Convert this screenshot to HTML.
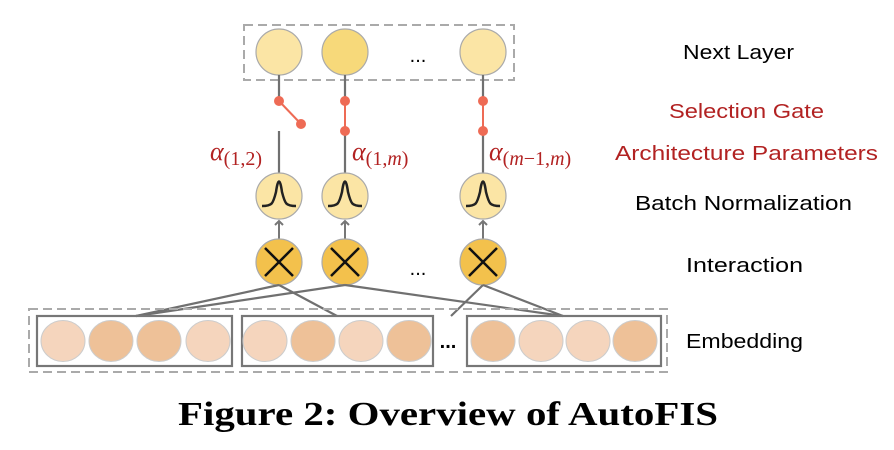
<!DOCTYPE html>
<html><head><meta charset="utf-8"><style>body{margin:0;background:#fff}svg{display:block}</style></head>
<body>
<svg width="894" height="450" viewBox="0 0 894 450" xmlns="http://www.w3.org/2000/svg">
<defs>
<marker id="ar" markerWidth="10" markerHeight="10" refX="5" refY="5" orient="auto" markerUnits="userSpaceOnUse">
<path d="M1,1 L5,5 L1,9" fill="none" stroke="#777" stroke-width="2"/>
</marker>
</defs>
<rect x="244" y="25" width="270" height="55" fill="none" stroke="#aaa" stroke-width="2" stroke-dasharray="9,5"/>
<g stroke="#aaa" stroke-width="1.2">
<circle cx="279" cy="52" r="23" fill="#fbe5a5"/>
<circle cx="345" cy="52" r="23" fill="#f7d97a"/>
<circle cx="483" cy="52" r="23" fill="#fbe5a5"/>
</g>
<text x="418" y="62" font-family="Liberation Sans, sans-serif" font-size="20" text-anchor="middle">...</text>
<g stroke="#707070" stroke-width="2.2">
<line x1="279" y1="75" x2="279" y2="101"/><line x1="345" y1="75" x2="345" y2="101"/><line x1="483" y1="75" x2="483" y2="101"/>
<line x1="279" y1="131" x2="279" y2="173"/><line x1="345" y1="131" x2="345" y2="173"/><line x1="483" y1="131" x2="483" y2="173"/>
</g>
<g stroke="#ee6b55" stroke-width="2" fill="#ee6b55">
<line x1="279" y1="101" x2="301" y2="124"/><line x1="345" y1="101" x2="345" y2="131"/><line x1="483" y1="101" x2="483" y2="131"/>
<circle cx="279" cy="101" r="4"/><circle cx="301" cy="124" r="4"/>
<circle cx="345" cy="101" r="4"/><circle cx="345" cy="131" r="4"/>
<circle cx="483" cy="101" r="4"/><circle cx="483" cy="131" r="4"/>
</g>
<g font-family="Liberation Serif, serif" font-style="italic" fill="#b22222">
<text x="210" y="160" font-size="26">α<tspan font-size="20" font-style="normal" dy="5">(1,2)</tspan></text>
<text x="352" y="160" font-size="26">α<tspan font-size="20" font-style="normal" dy="5">(1,<tspan font-style="italic">m</tspan>)</tspan></text>
<text x="489" y="160" font-size="26">α<tspan font-size="20" font-style="normal" dy="5">(<tspan font-style="italic">m</tspan>−1,<tspan font-style="italic">m</tspan>)</tspan></text>
</g>
<g stroke="#aaa" stroke-width="1.2" fill="#fbe5a5">
<circle cx="279" cy="196" r="23"/><circle cx="345" cy="196" r="23"/><circle cx="483" cy="196" r="23"/>
</g>
<g fill="none" stroke="#222" stroke-width="2.5">
<path d="M262,206 C272,206 273,204 276,192 C278,178 280,178 282,192 C285,204 286,206 296,206"/>
<path d="M328,206 C338,206 339,204 342,192 C344,178 346,178 348,192 C351,204 352,206 362,206"/>
<path d="M466,206 C476,206 477,204 480,192 C482,178 484,178 486,192 C489,204 490,206 500,206"/>
</g>
<g stroke="#777" stroke-width="2">
<line x1="279" y1="239" x2="279" y2="221" marker-end="url(#ar)"/>
<line x1="345" y1="239" x2="345" y2="221" marker-end="url(#ar)"/>
<line x1="483" y1="239" x2="483" y2="221" marker-end="url(#ar)"/>
</g>
<g stroke="#aaa" stroke-width="1.2" fill="#f3c14c">
<circle cx="279" cy="262" r="23"/><circle cx="345" cy="262" r="23"/><circle cx="483" cy="262" r="23"/>
</g>
<g stroke="#111" stroke-width="2.5">
<path d="M265,248 L293,276 M293,248 L265,276"/>
<path d="M331,248 L359,276 M359,248 L331,276"/>
<path d="M469,248 L497,276 M497,248 L469,276"/>
</g>
<text x="418" y="275" font-family="Liberation Sans, sans-serif" font-size="20" text-anchor="middle">...</text>
<g stroke="#707070" stroke-width="2.2">
<line x1="279" y1="285" x2="136" y2="316"/><line x1="279" y1="285" x2="337" y2="316"/>
<line x1="345" y1="285" x2="136" y2="316"/><line x1="345" y1="285" x2="563" y2="316"/>
<line x1="483" y1="285" x2="451" y2="316"/><line x1="483" y1="285" x2="563" y2="316"/>
</g>
<rect x="29" y="309" width="638" height="63" fill="none" stroke="#aaa" stroke-width="2" stroke-dasharray="9,5"/>
<g fill="none" stroke="#777" stroke-width="2.2">
<rect x="37" y="316" width="195" height="50"/><rect x="242" y="316" width="191" height="50"/><rect x="467" y="316" width="194" height="50"/>
</g>
<g stroke="#ccc" stroke-width="1">
<ellipse cx="63" cy="341" rx="22" ry="20.5" fill="#f5d5bd"/>
<ellipse cx="111" cy="341" rx="22" ry="20.5" fill="#eec198"/>
<ellipse cx="159" cy="341" rx="22" ry="20.5" fill="#eec198"/>
<ellipse cx="208" cy="341" rx="22" ry="20.5" fill="#f5d5bd"/>
<ellipse cx="265" cy="341" rx="22" ry="20.5" fill="#f5d5bd"/>
<ellipse cx="313" cy="341" rx="22" ry="20.5" fill="#eec198"/>
<ellipse cx="361" cy="341" rx="22" ry="20.5" fill="#f5d5bd"/>
<ellipse cx="409" cy="341" rx="22" ry="20.5" fill="#eec198"/>
<ellipse cx="493" cy="341" rx="22" ry="20.5" fill="#eec198"/>
<ellipse cx="541" cy="341" rx="22" ry="20.5" fill="#f5d5bd"/>
<ellipse cx="588" cy="341" rx="22" ry="20.5" fill="#f5d5bd"/>
<ellipse cx="635" cy="341" rx="22" ry="20.5" fill="#eec198"/>
</g>
<text x="448" y="348" font-family="Liberation Sans, sans-serif" font-size="20" font-weight="bold" text-anchor="middle">...</text>
<g font-family="Liberation Sans, sans-serif" font-size="20">
<text x="683" y="59" textLength="111" lengthAdjust="spacingAndGlyphs">Next Layer</text>
<text x="669" y="118" fill="#b22222" textLength="155" lengthAdjust="spacingAndGlyphs">Selection Gate</text>
<text x="615" y="160" fill="#b22222" textLength="263" lengthAdjust="spacingAndGlyphs">Architecture Parameters</text>
<text x="635" y="210" textLength="217" lengthAdjust="spacingAndGlyphs">Batch Normalization</text>
<text x="686" y="272" textLength="117" lengthAdjust="spacingAndGlyphs">Interaction</text>
<text x="686" y="348" textLength="117" lengthAdjust="spacingAndGlyphs">Embedding</text>
</g>
<text x="178" y="425" font-family="Liberation Serif, serif" font-weight="bold" font-size="34" textLength="540" lengthAdjust="spacingAndGlyphs">Figure 2: Overview of AutoFIS</text>
</svg>
</body></html>
